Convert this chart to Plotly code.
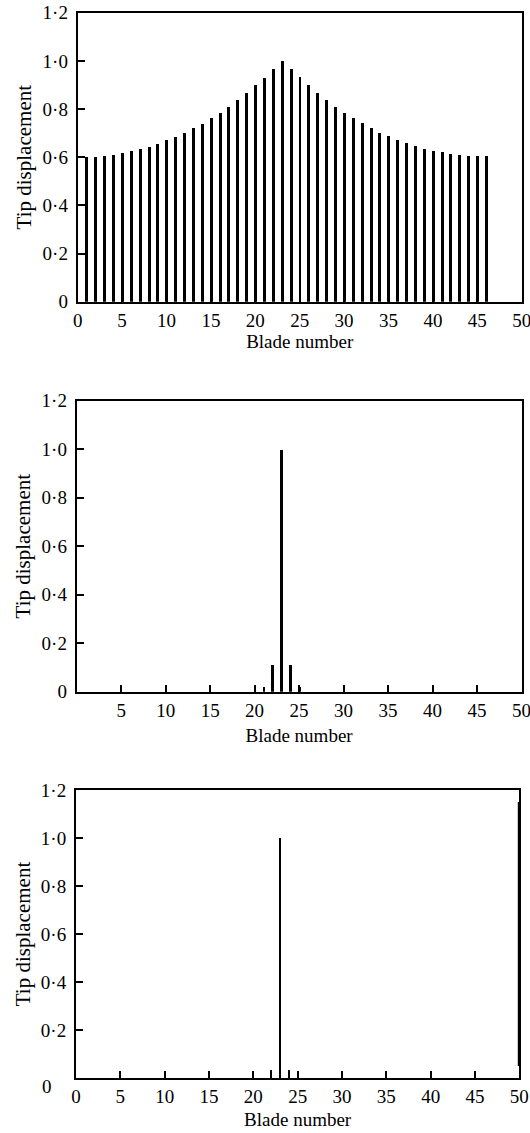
import plotly.graph_objects as go

# ---------------- data ----------------
blades_top = list(range(1, 47))
disp_top = [0.602, 0.604, 0.608, 0.612, 0.619, 0.626, 0.636, 0.645, 0.656, 0.672,
            0.687, 0.702, 0.723, 0.740, 0.763, 0.785, 0.811, 0.839, 0.867, 0.899,
            0.931, 0.968, 1.000, 0.968, 0.933, 0.899, 0.868, 0.839, 0.811, 0.786,
            0.764, 0.742, 0.723, 0.703, 0.688, 0.673, 0.661, 0.648, 0.636, 0.627,
            0.622, 0.615, 0.612, 0.608, 0.605, 0.605]

blades_mid = [21, 22, 23, 24, 25]
disp_mid = [0.02, 0.11, 1.0, 0.11, 0.02]

blades_bot = [22, 23, 24]
disp_bot = [0.035, 1.0, 0.035]
edge_blade = [50, 50]
edge_mark = [0.05, 1.15]

y_tickvals = [0, 0.2, 0.4, 0.6, 0.8, 1.0, 1.2]
y_ticktext = ["0", "0·2", "0·4", "0·6", "0·8", "1·0", "1·2"]
y_tickvals_bot = [0.2, 0.4, 0.6, 0.8, 1.0, 1.2]
y_ticktext_bot = ["0·2", "0·4", "0·6", "0·8", "1·0", "1·2"]
x_tickvals = [0, 5, 10, 15, 20, 25, 30, 35, 40, 45, 50]
x_tickvals_mid = [5, 10, 15, 20, 25, 30, 35, 40, 45, 50]

# ---------------- figure ----------------
W, H = 530, 1133
FONT = "Liberation Serif"
FS = 19
FS_YT = 21

def px_x(p):
    return p / W

def px_y(p):
    return 1 - p / H

fig = go.Figure()

fig.add_trace(go.Bar(x=blades_top, y=disp_top, width=0.33, marker_color="black",
                     marker_line_width=0, xaxis="x", yaxis="y", showlegend=False))
fig.add_trace(go.Bar(x=blades_mid, y=disp_mid, width=0.28, marker_color="black",
                     marker_line_width=0, xaxis="x2", yaxis="y2", showlegend=False))
fig.add_trace(go.Bar(x=blades_bot, y=disp_bot, width=0.28, marker_color="black",
                     marker_line_width=0, xaxis="x3", yaxis="y3", showlegend=False))
fig.add_trace(go.Scatter(x=edge_blade, y=edge_mark, mode="lines",
                         line=dict(color="black", width=3), xaxis="x3", yaxis="y3",
                         showlegend=False, cliponaxis=False))

axis_common = dict(showline=True, linecolor="black", linewidth=2, mirror=True,
                   ticks="inside", ticklen=7, tickwidth=1.5, tickcolor="black",
                   showgrid=False, zeroline=False,
                   tickfont=dict(family=FONT, size=FS, color="black"),
                   ticklabeloverflow="allow",
                   automargin=False)

panels = [
    # (xaxis name, yaxis name, left, right, top, bottom, x title standoff)
    ("xaxis", "yaxis", 77.7, 521.7, 12.7, 301.7, 5),
    ("xaxis2", "yaxis2", 76.7, 521.5, 400.7, 691.7, 9),
    ("xaxis3", "yaxis3", 76.0, 519.3, 790.0, 1078.0, 7),
]

for i, (xa, ya, l, r, t, b, xts) in enumerate(panels):
    xanchor = "y" if i == 0 else f"y{i+1}"
    yanchor = "x" if i == 0 else f"x{i+1}"
    xtv = x_tickvals_mid if i == 1 else x_tickvals
    ytv = y_tickvals_bot if i == 2 else y_tickvals
    ytt = y_ticktext_bot if i == 2 else y_ticktext
    fig.update_layout(**{
        xa: dict(axis_common, domain=[px_x(l), px_x(r)], anchor=xanchor,
                 range=[0, 50], tickmode="array", tickvals=xtv,
                 title=dict(text="Blade number", standoff=xts,
                            font=dict(family=FONT, size=FS, color="black"))),
        ya: dict(axis_common, domain=[px_y(b), px_y(t)], anchor=yanchor,
                 range=[0, 1.2], tickmode="array", tickvals=ytv, ticktext=ytt,
                 ticklabelstandoff=4,
                 title=dict(text="Tip displacement", standoff=5,
                            font=dict(family=FONT, size=FS_YT, color="black"))),
    })

# detached "0" label on lowest panel's y axis
fig.add_annotation(x=0, y=0, xref="x3", yref="y3", text="0", showarrow=False,
                   xanchor="right", yanchor="middle", xshift=-22, yshift=-8,
                   font=dict(family=FONT, size=FS, color="black"))

fig.update_layout(width=W, height=H, margin=dict(l=0, r=0, t=0, b=0),
                  paper_bgcolor="white", plot_bgcolor="white",
                  bargap=0, font=dict(family=FONT, size=FS, color="black"))

fig.write_html("out.html")
